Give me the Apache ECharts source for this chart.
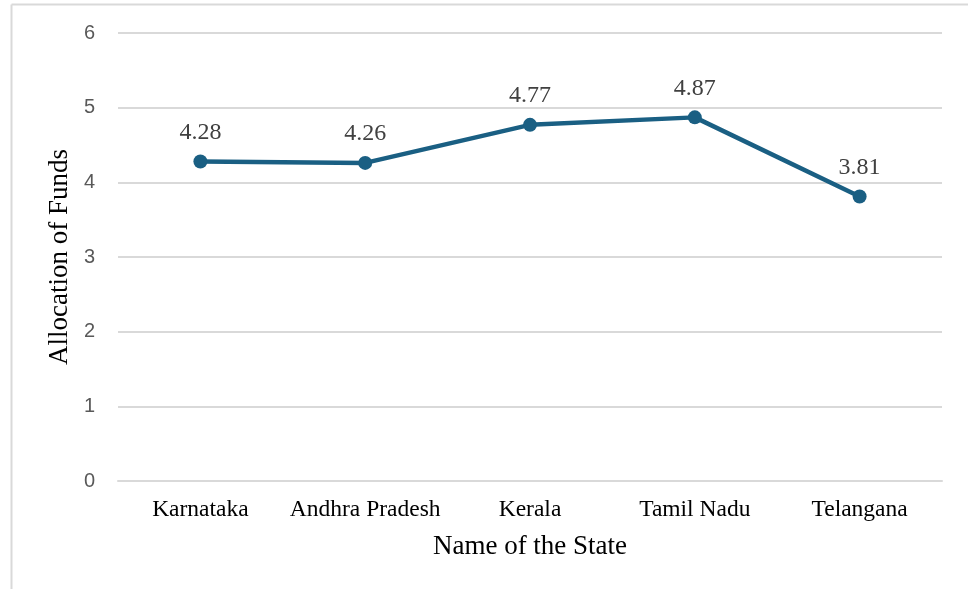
<!DOCTYPE html>
<html>
<head>
<meta charset="utf-8">
<script src="https://cdn.jsdelivr.net/npm/echarts@6/dist/echarts.min.js"></script>
<style>
  html, body { margin: 0; padding: 0; background: #ffffff; }
  #chart { width: 968px; height: 589px; }
</style>
</head>
<body>
<div id="chart"></div>
<script>
// State-wise allocation of funds
const states = ['Karnataka', 'Andhra Pradesh', 'Kerala', 'Tamil Nadu', 'Telangana'];
const allocation = [4.28, 4.26, 4.77, 4.87, 3.81];
const yTicks = [0, 1, 2, 3, 4, 5, 6];

const chart = echarts.init(document.getElementById('chart'), null, { renderer: 'canvas' });

chart.setOption({
  backgroundColor: '#ffffff',
  animation: false,
  graphic: [
    // frame lines along the left and top edges
    { type: 'line', shape: { x1: 11.5, y1: 4.5, x2: 11.5, y2: 589 }, style: { stroke: '#d9d9d9', lineWidth: 2 } },
    { type: 'line', shape: { x1: 11.5, y1: 4.5, x2: 968, y2: 4.5 }, style: { stroke: '#d9d9d9', lineWidth: 2 } }
  ],
  grid: { left: 118, right: 26, top: 33, bottom: 108, containLabel: false },
  xAxis: {
    type: 'category',
    data: states,
    boundaryGap: true,
    name: 'Name of the State',
    nameLocation: 'middle',
    nameGap: 52,
    nameTextStyle: { fontFamily: 'Liberation Serif', fontSize: 27, color: '#000000' },
    axisLine: { show: true, lineStyle: { color: '#d9d9d9', width: 2 } },
    axisTick: { show: false },
    axisLabel: { interval: 0, fontFamily: 'Liberation Serif', fontSize: 23.5, color: '#000000', margin: 17 }
  },
  yAxis: {
    type: 'value',
    min: yTicks[0],
    max: yTicks[yTicks.length - 1],
    interval: 1,
    name: 'Allocation of Funds',
    nameLocation: 'middle',
    nameGap: 39,
    nameTextStyle: { fontFamily: 'Liberation Serif', fontSize: 27, color: '#000000' },
    axisLine: { show: false },
    axisTick: { show: false },
    axisLabel: { fontFamily: 'Liberation Sans', fontSize: 20, color: '#595959', margin: 23 },
    splitLine: { show: true, lineStyle: { color: '#d9d9d9', width: 2 } }
  },
  series: [{
    type: 'line',
    data: allocation,
    symbol: 'circle',
    symbolSize: 14,
    lineStyle: { color: '#1a5f83', width: 4.5 },
    itemStyle: { color: '#1a5f83' },
    label: {
      show: true,
      position: 'top',
      distance: 10,
      fontFamily: 'Liberation Serif',
      fontSize: 24,
      color: '#404040',
      formatter: p => p.value.toFixed(2)
    }
  }]
});
</script>
</body>
</html>
